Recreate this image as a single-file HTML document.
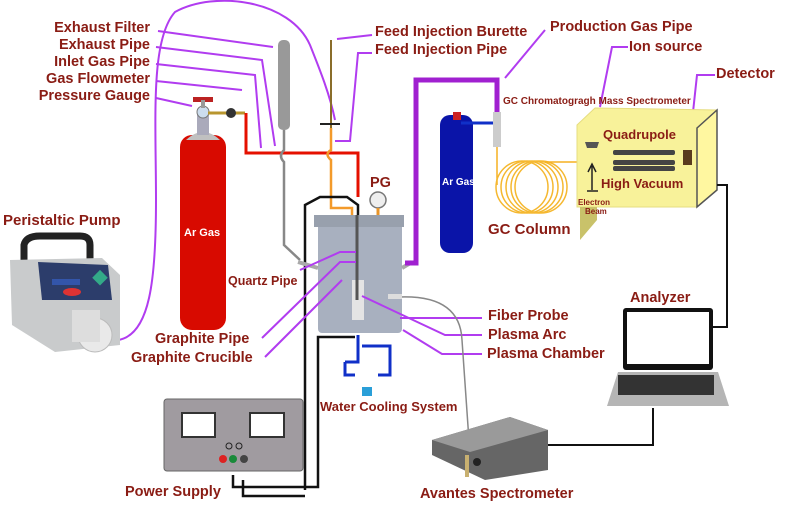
<!DOCTYPE html>
<html><head><meta charset="utf-8"><style>
html,body{margin:0;padding:0;background:#fff;}
svg{display:block;font-family:"Liberation Sans",sans-serif;font-weight:bold;}
.t{fill:#8a1c14;font-size:14.5px;}
.p{stroke:#b13cf0;stroke-width:2;fill:none;}
</style></head><body>
<svg width="789" height="513" viewBox="0 0 789 513" xmlns="http://www.w3.org/2000/svg">
<path class="p" d="M118,340 C150,335 156,280 156,200 C156,120 150,40 175,12 C215,-10 290,0 310,45 C320,70 330,95 335,120"/>
<g class="t" text-anchor="end">
<text x="150" y="32">Exhaust Filter</text>
<text x="150" y="49">Exhaust Pipe</text>
<text x="150" y="66">Inlet Gas Pipe</text>
<text x="150" y="83">Gas Flowmeter</text>
<text x="150" y="100">Pressure Gauge</text>
</g>
<g class="p">
<path d="M158,31 L273,47"/>
<path d="M156,47 L262,60 L275,146"/>
<path d="M156,64 L255,75 L261,148"/>
<path d="M156,81 L242,90"/>
<path d="M156,98 L192,106"/>
<path d="M337,39 L372,35"/>
<path d="M335,141 L350,141 L358,53 L372,53"/>
<path d="M505,78 L545,30"/>
<path d="M600,107 L612,47 L628,47"/>
<path d="M690,140 L697,75 L715,75"/>
</g>
<g class="t">
<text x="375" y="36">Feed Injection Burette</text>
<text x="375" y="54">Feed Injection Pipe</text>
<text x="550" y="31">Production Gas Pipe</text>
<text x="629" y="51">Ion source</text>
<text x="716" y="78">Detector</text>
<text x="503" y="104" style="font-size:10px">GC Chromatogragh  Mass Spectrometer</text>
<text x="3" y="225" style="font-size:15px">Peristaltic Pump</text>
<text x="228" y="285" style="font-size:12.5px">Quartz Pipe</text>
<text x="155" y="343">Graphite Pipe</text>
<text x="131" y="362">Graphite Crucible</text>
<text x="370" y="187">PG</text>
<text x="488" y="234" style="font-size:15px">GC Column</text>
<text x="630" y="302">Analyzer</text>
<text x="488" y="320">Fiber Probe</text>
<text x="488" y="339">Plasma Arc</text>
<text x="487" y="358">Plasma Chamber</text>
<text x="320" y="411" style="font-size:13px">Water Cooling System</text>
<text x="125" y="496">Power Supply</text>
<text x="420" y="498">Avantes Spectrometer</text>
</g>
<!-- pump -->
<path d="M24,262 L24,245 Q26,236 40,236 L80,236 Q90,236 90,245 L90,262" stroke="#222" stroke-width="7" fill="none"/>
<path d="M10,260 L102,258 L120,275 L120,345 L55,352 L12,325 Z" fill="#c9cbcc"/>
<path d="M38,262 L108,265 L112,300 L42,300 Z" fill="#2c3d6b"/>
<rect x="52" y="279" width="28" height="6" fill="#3355aa"/>
<ellipse cx="72" cy="292" rx="9" ry="4" fill="#d33"/>
<rect x="95" y="272" width="11" height="11" fill="#3a8" transform="rotate(45 100 277)"/>
<circle cx="95" cy="335" r="17" fill="#e9e9e9" stroke="#bbb"/>
<rect x="72" y="310" width="28" height="32" fill="#ddd"/>
<!-- red cylinder -->
<rect x="180" y="135" width="46" height="195" rx="12" fill="#d80a00"/>
<path d="M186,140 Q203,124 220,140 Z" fill="#c0c0c0"/>
<rect x="197" y="113" width="12" height="22" fill="#aab"/>
<circle cx="203" cy="112" r="6" fill="#cde" stroke="#777"/>
<rect x="193" y="97" width="20" height="5" fill="#b22"/>
<rect x="201" y="100" width="4" height="8" fill="#999"/>
<path d="M208,113 L245,113" stroke="#b8962e" stroke-width="3"/>
<circle cx="231" cy="113" r="5" fill="#333"/>
<text x="184" y="236" fill="#fff" font-size="11">Ar Gas</text>
<!-- pipes -->
<path d="M246,113 L246,153 L358,153 L358,197" stroke="#e51000" stroke-width="3" fill="none"/>
<path d="M331,128 L331,150 Q324,154 331,160 L331,208 L352,208 L352,218" stroke="#f39a2a" stroke-width="2.5" fill="none"/>
<path d="M331,40 L331,128" stroke="#8a6d2a" stroke-width="2"/>
<path d="M320,124 L340,124" stroke="#222" stroke-width="2"/>
<rect x="278" y="40" width="12" height="90" rx="5" fill="#999"/>
<path d="M284,130 L284,150 Q278,156 284,162 L284,245 L300,260" stroke="#888" stroke-width="2.5" fill="none"/>
<path d="M305,490 L305,205 L320,197 L347,197 L358,205 L358,330" stroke="#111" stroke-width="2.5" fill="none"/>
<path d="M243,480 L243,496 L305,496" stroke="#111" stroke-width="2.5" fill="none"/>
<path d="M233,475 L233,487 L318,487 L318,337 L355,337" stroke="#111" stroke-width="2.5" fill="none"/>
<circle cx="378" cy="200" r="8" fill="#eee" stroke="#777" stroke-width="1.5"/>
<path d="M378,208 L378,217" stroke="#e8952a" stroke-width="3"/>
<!-- chamber -->
<rect x="318" y="223" width="84" height="110" rx="4" fill="#a8b0bf"/>
<rect x="314" y="215" width="90" height="12" fill="#98a0ad"/>
<path d="M298,262 L318,268 M402,268 L412,262" stroke="#aaa" stroke-width="4"/>
<rect x="352" y="280" width="12" height="40" fill="#e4e4e4"/>
<path d="M357,215 L357,300" stroke="#555" stroke-width="3"/>
<g class="p">
<path d="M300,270 L340,252 L356,252"/>
<path d="M262,338 L340,262 L356,262"/>
<path d="M265,357 L342,280"/>
<path d="M362,296 L445,335 L482,335"/>
<path d="M400,318 L450,318 L482,318"/>
<path d="M403,330 L442,354 L482,354"/>
</g>
<path d="M405,263 L416,263 L416,80 L497,80 L497,112" stroke="#a020d0" stroke-width="5" fill="none"/>
<!-- water cooling -->
<path d="M358,335 L358,346 M362,346 L390,346 L390,375 L378,375 M345,362 L345,375 L355,375 M345,362 L358,362 L358,346" stroke="#1030c8" stroke-width="3" fill="none"/>
<rect x="362" y="387" width="10" height="9" fill="#2a9fd8"/>
<path d="M400,297 Q460,295 462,340 L470,455" stroke="#888" stroke-width="1.5" fill="none"/>
<rect x="388" y="294" width="14" height="5" fill="#ddd"/>
<!-- blue cylinder -->
<rect x="440" y="115" width="33" height="138" rx="10" fill="#0a14a8"/>
<rect x="453" y="112" width="8" height="8" fill="#c22"/>
<path d="M461,123 L493,123" stroke="#1030c8" stroke-width="3"/>
<text x="442" y="185" fill="#fff" font-size="10">Ar Gas</text>
<rect x="493" y="112" width="8" height="35" fill="#ccc"/>
<!-- GC column -->
<path d="M497,147 L497,185" stroke="#f5b020" stroke-width="1.5"/>
<g fill="none" stroke="#f5b830" stroke-width="1.5">
<circle cx="522" cy="187" r="26"/><circle cx="527" cy="187" r="26"/><circle cx="532" cy="187" r="26"/><circle cx="537" cy="187" r="26"/><circle cx="541" cy="187" r="26"/>
</g>
<path d="M545,162 L580,162" stroke="#f5b020" stroke-width="1.5"/>
<!-- mass spec -->
<path d="M577,125 L595,108 L717,110 L717,190 L697,207 L577,207 Z" fill="#f8f29a" stroke="#e6dd80"/>
<path d="M697,128 L717,110 L717,190 L697,207 Z" fill="#fff7a0" stroke="#555" stroke-width="1.5"/>
<path d="M580,207 L597,207 L597,220 L580,240 Z" fill="#c9c26a"/>
<rect x="613" y="150" width="62" height="5" rx="2" fill="#444"/><rect x="613" y="160" width="62" height="5" rx="2" fill="#444"/><rect x="613" y="166" width="62" height="5" rx="2" fill="#444"/>
<rect x="683" y="150" width="9" height="15" fill="#5a3b1e"/>
<path d="M585,142 L599,142 L597,148 L587,148 Z" fill="#555"/>
<path d="M592,190 L592,166 M588,172 L592,164 L596,172 M587,191 L598,191" stroke="#222" stroke-width="1.5" fill="none"/>
<text x="603" y="139" fill="#8a1c14" font-size="13">Quadrupole</text>
<text x="601" y="188" fill="#8a1c14" font-size="13">High Vacuum</text>
<text x="578" y="205" fill="#8a1c14" font-size="8">Electron</text>
<text x="585" y="214" fill="#8a1c14" font-size="8">Beam</text>
<path d="M717,185 L727,185 L727,327 L712,327" stroke="#111" stroke-width="2" fill="none"/>
<!-- laptop -->
<rect x="623" y="308" width="90" height="62" rx="3" fill="#111"/>
<rect x="627" y="312" width="82" height="52" fill="#fff"/>
<path d="M618,372 L718,372 L729,406 L607,406 Z" fill="#b5b5b5"/>
<rect x="618" y="375" width="96" height="20" fill="#333"/>
<path d="M653,408 L653,445 L545,445" stroke="#111" stroke-width="2" fill="none"/>
<!-- spectrometer -->
<path d="M432,440 L510,417 L548,430 L548,470 L485,480 L432,455 Z" fill="#666"/>
<path d="M432,440 L510,417 L548,430 L470,452 Z" fill="#9a9a9a"/>
<rect x="465" y="455" width="4" height="22" fill="#c8b070"/>
<circle cx="477" cy="462" r="4" fill="#222"/>
<!-- power supply -->
<rect x="164" y="399" width="139" height="72" rx="3" fill="#a09ba0" stroke="#666"/>
<rect x="182" y="413" width="33" height="24" fill="#fff" stroke="#333" stroke-width="2"/>
<rect x="250" y="413" width="34" height="24" fill="#fff" stroke="#333" stroke-width="2"/>
<circle cx="223" cy="459" r="4" fill="#d22"/><circle cx="233" cy="459" r="4" fill="#1a8a3a"/><circle cx="244" cy="459" r="4" fill="#444"/>
<circle cx="229" cy="446" r="3" fill="none" stroke="#222"/><circle cx="239" cy="446" r="3" fill="none" stroke="#222"/>
</svg>
</body></html>
